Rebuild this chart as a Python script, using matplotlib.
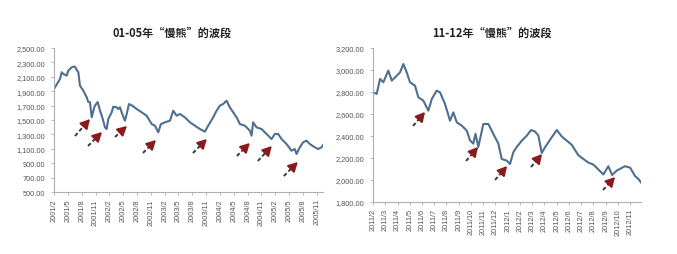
import matplotlib
matplotlib.use("Agg")
import matplotlib.pyplot as plt
from matplotlib.ticker import FuncFormatter

# ---------------- data ----------------
# left chart: month index (1 = 2001/2) and index level
left_month = [1.00, 2.30, 2.67, 3.02, 3.75, 4.10, 4.84, 5.18, 5.55, 5.92, 6.27, 6.63,
              7.35, 8.09, 8.43, 8.80, 9.17, 9.73, 9.89, 10.47, 10.97, 11.47, 12.05,
              12.42, 12.77, 13.51, 13.85, 14.59, 14.94, 15.30, 15.80, 16.39, 16.76,
              17.25, 17.97, 18.92, 20.01, 21.09, 22.17, 22.89, 23.60, 24.19, 25.06,
              26.14, 26.86, 27.59, 28.31, 29.39, 30.48, 31.56, 32.64, 33.73, 34.44,
              35.53, 36.26, 36.98, 37.69, 38.43, 39.14, 39.86, 40.60, 41.31, 42.40,
              43.48, 43.85, 44.19, 44.93, 46.01, 47.10, 48.18, 48.90, 49.61, 50.35,
              51.43, 52.52, 53.23, 53.60, 54.32, 55.03, 55.77, 56.48, 57.57, 58.28,
              59.02, 59.52]
left_value = [1931, 2070, 2163, 2139, 2116, 2185, 2232, 2240, 2240, 2195, 2163, 1977,
              1907, 1815, 1750, 1746, 1537, 1676, 1700, 1750, 1629, 1537, 1398,
              1375, 1514, 1607, 1685, 1676, 1653, 1676, 1583, 1490, 1583,
              1722, 1699, 1653, 1607, 1560, 1444, 1421, 1329, 1444, 1468,
              1490, 1629, 1560, 1583, 1537, 1468, 1421, 1375, 1338, 1421,
              1537, 1629, 1699, 1722, 1768, 1676, 1607, 1537, 1444, 1421,
              1352, 1282, 1468, 1398, 1375, 1306, 1236, 1306, 1306, 1236,
              1167, 1074, 1097, 1028, 1121, 1190, 1213, 1167, 1121, 1097,
              1121, 1167]
left_ticklabels = ["2001/2", "2001/5", "2001/8", "2001/11", "2002/2", "2002/5", "2002/8",
                   "2002/11", "2003/2", "2003/5", "2003/8", "2003/11", "2004/2", "2004/5",
                   "2004/8", "2004/11", "2005/2", "2005/5", "2005/8", "2005/11"]
left_title = "01-05年“慢熊”的波段"
# arrows: (tail month, tail value, tip month, tip value)
left_arrows = [(5.55, 1278, 8.80, 1514), (8.37, 1139, 11.40, 1333),
               (14.22, 1264, 16.82, 1417), (20.29, 1042, 23.11, 1222),
               (31.13, 1042, 34.16, 1236), (40.66, 1000, 43.48, 1181),
               (45.21, 931, 48.25, 1139), (50.85, 722, 53.88, 917)]

# right chart: month index (1 = 2011/2)
right_month = [1.02, 1.30, 1.57, 1.84, 2.25, 2.53, 2.94, 3.21, 3.48, 3.75, 4.02, 4.43,
               4.70, 5.11, 5.52, 5.80, 6.20, 6.47, 6.88, 7.29, 7.56, 7.84, 8.25, 8.66,
               8.92, 9.19, 9.37, 9.60, 10.01, 10.42, 10.83, 11.24, 11.51, 11.92, 12.19,
               12.46, 12.74, 13.15, 13.56, 13.91, 14.24, 14.51, 14.78, 15.05, 15.60,
               16.01, 16.42, 16.83, 17.23, 17.77, 18.18, 18.59, 19.00, 19.41, 19.82,
               20.22, 20.53, 20.91, 21.32, 21.59, 22.00, 22.41, 22.68, 22.94]
right_value = [2797, 2782, 2918, 2888, 2994, 2903, 2948, 2979, 3054, 2979, 2888, 2857,
               2752, 2721, 2630, 2736, 2812, 2797, 2691, 2539, 2615, 2524, 2494, 2448,
               2360, 2330, 2420, 2300, 2509, 2509, 2418, 2330, 2191, 2176, 2145,
               2252, 2300, 2357, 2403, 2454, 2440, 2403, 2245, 2297, 2388,
               2454, 2395, 2357, 2320, 2225, 2191, 2158, 2140, 2095, 2050,
               2125, 2045, 2085, 2110, 2125, 2112, 2035, 2009, 1970]
right_ticklabels = ["2011/2", "2011/3", "2011/4", "2011/5", "2011/6", "2011/7", "2011/8",
                    "2011/9", "2011/10", "2011/11", "2011/12", "2012/1", "2012/2", "2012/3",
                    "2012/4", "2012/5", "2012/6", "2012/7", "2012/8", "2012/9", "2012/10",
                    "2012/11"]
right_title = "11-12年“慢熊”的波段"
right_arrows = [(4.27, 2491, 5.25, 2618), (8.60, 2173, 9.58, 2300),
                (10.97, 2000, 11.95, 2127), (13.91, 2118, 14.81, 2236),
                (19.79, 1909, 20.77, 2027)]

# ---------------- style ----------------
LINE = "#4f6f90"
AXIS = "#b0b0b0"
TXT = "#555555"
HEAD = "#8b1a1f"
SHAFT = "#3a3a3a"

fig = plt.figure(figsize=(6.77, 2.55), dpi=100)
fig.patch.set_facecolor("white")

fmt = FuncFormatter(lambda v, p: f"{v:,.2f}")


def setup(ax, months, values, ticklabels, step, ylim, yticks, xlim, arrows):
    ax.plot(months, values, color=LINE, lw=1.5, solid_joinstyle="round")
    ax.set_ylim(*ylim)
    ax.set_yticks(yticks)
    ax.yaxis.set_major_formatter(fmt)
    xt = [1 + step * i for i in range(len(ticklabels))]
    ax.set_xticks(xt)
    ax.set_xticklabels(ticklabels, rotation=90)
    ax.set_xlim(*xlim)
    for s in ("top", "right"):
        ax.spines[s].set_visible(False)
    for s in ("left", "bottom"):
        ax.spines[s].set_color(AXIS)
        ax.spines[s].set_linewidth(0.8)
    ax.tick_params(axis="both", colors=AXIS, length=2.5, width=0.6, labelcolor=TXT,
                   labelsize=5.3)
    ax.tick_params(axis="y", pad=4)
    ax.tick_params(axis="x", pad=2)
    for lab in ax.get_xticklabels() + ax.get_yticklabels():
        lab.set_family(["Liberation Sans", "DejaVu Sans"])
    for (x0, y0, x1, y1) in arrows:
        xm = x0 + (x1 - x0) * 0.6
        ym = y0 + (y1 - y0) * 0.6
        ax.plot([x0, xm], [y0, ym], color=SHAFT, lw=1.4, ls=(0, (2.0, 1.3)),
                solid_capstyle="butt")
        ax.annotate("", xy=(x1, y1), xytext=(xm, ym),
                    arrowprops=dict(arrowstyle="-|>,head_length=0.55,head_width=0.3",
                                    color=HEAD, lw=1.4, shrinkA=0, shrinkB=0))


axL = fig.add_axes([0.0798, 0.243, 0.397, 0.565])
setup(axL, left_month, left_value, left_ticklabels, 3, (500, 2500),
      list(range(500, 2501, 200)), (1, 59.3), left_arrows)

axR = fig.add_axes([0.551, 0.204, 0.396, 0.604])
setup(axR, right_month, right_value, right_ticklabels, 1, (1800, 3200),
      list(range(1800, 3201, 200)), (1, 22.9), right_arrows)

tfam = ["Noto Sans CJK SC", "DejaVu Sans"]
fig.text(172 / 677, 1 - 33 / 255, left_title, ha="center", va="center",
         fontsize=8, fontweight="bold", family=tfam, color="#222222")
fig.text(492 / 677, 1 - 33 / 255, right_title, ha="center", va="center",
         fontsize=8, fontweight="bold", family=tfam, color="#222222")

fig.savefig("out.png", dpi=100, facecolor="white")
